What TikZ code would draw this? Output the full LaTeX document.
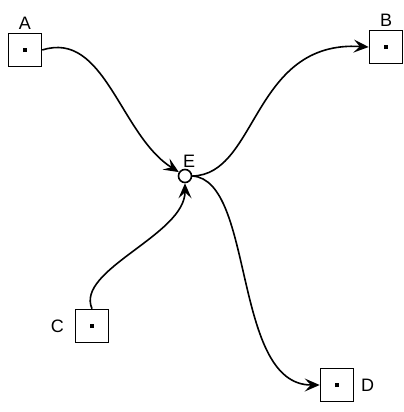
\documentclass[tikz,border=0pt]{standalone}
\usepackage{fontspec}
\setmainfont{Liberation Sans}
\usetikzlibrary{arrows.meta,positioning}

\begin{document}
\begin{tikzpicture}[x=0.5pt, y=-0.5pt, >={Stealth[length=7.5pt,width=6.5pt,inset=3pt]},
    box/.style={draw, thick, minimum size=16.5pt, inner sep=0pt, label distance=0pt},
    hub/.style={draw, thick, circle, minimum size=6.5pt, inner sep=0pt},
    every label/.style={font=\fontsize{9}{10}\selectfont, inner sep=1pt},
    every path/.style={thick}]
            \useasboundingbox (0, 0) rectangle (403, 412);

            \node (A)[box, label=above:A] at (25, 50) {\rule{2pt}{2pt}};
            \node (B)[box, label=above:B] at (386, 47) {\rule{2pt}{2pt}};
            \node (C)[box, label={[xshift=-4pt]left:C}] at (92, 326) {\rule{2pt}{2pt}};
            \node (D)[box, label={[xshift=2pt]right:D}] at (337, 385) {\rule{2pt}{2pt}};
            \node (E)[hub, label={[xshift=2pt, yshift=-1pt]above:E}] at (185, 176) {};

            \draw[->] (A.east) .. controls (105, 30) and (120, 135) .. (E);
            \draw[->] (C.north) .. controls (75, 270) and (185, 235) .. (E);
            \draw[->] (E.east) .. controls (258, 175) and (252, 40) .. (B.west);
            \draw[->] (E.east) .. controls (255, 180) and (232, 385) .. (D.west);
    \end{tikzpicture}
\end{document}
